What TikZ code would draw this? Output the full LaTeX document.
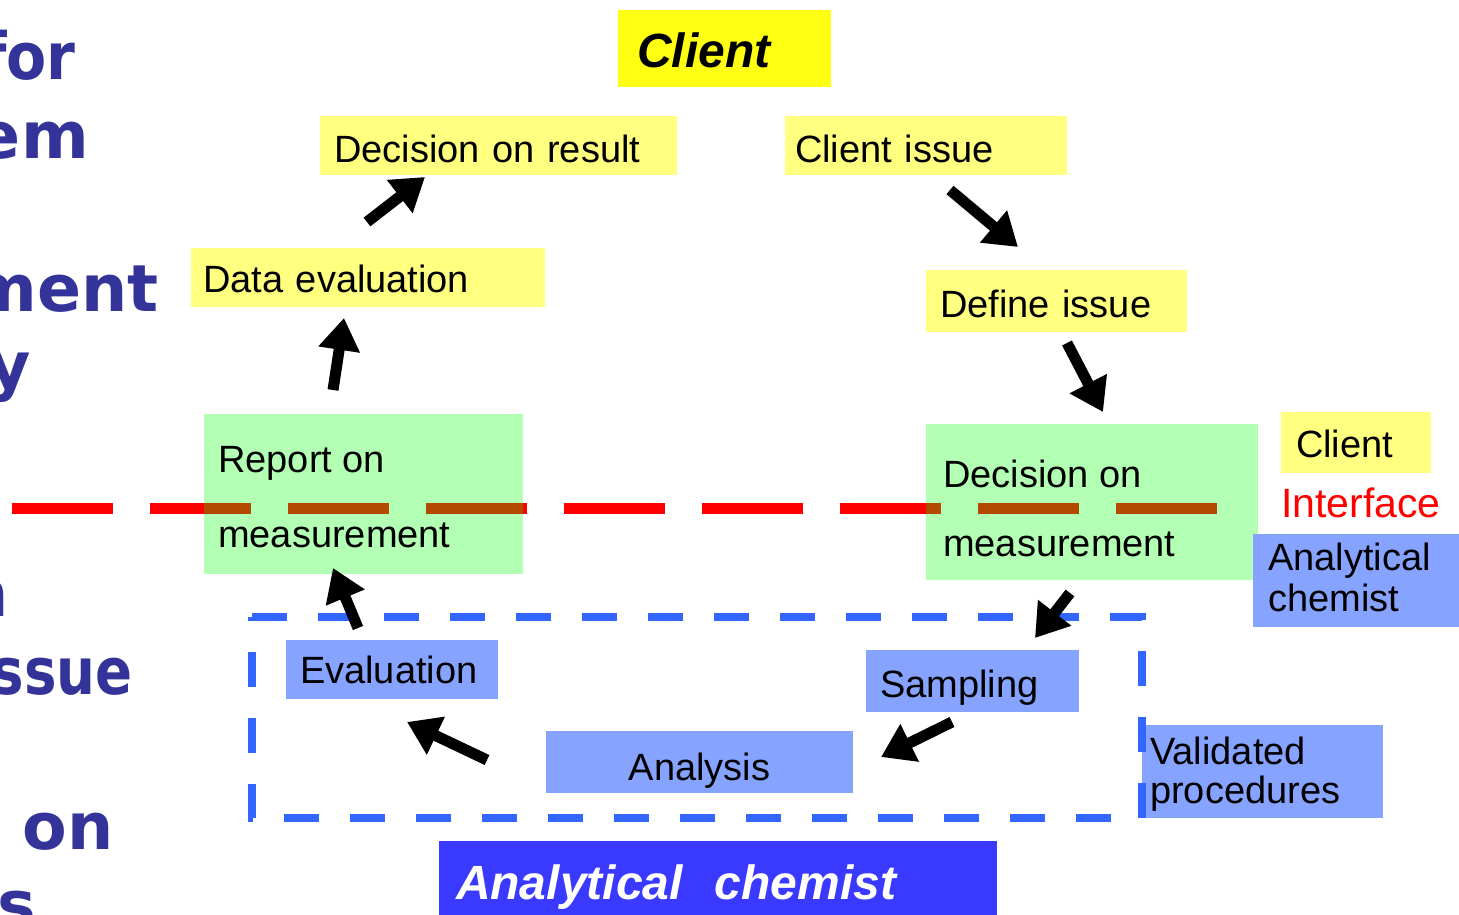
\documentclass[tikz,border=0pt]{standalone}
\usepackage{fontspec}
\setmainfont{Liberation Sans}
\newfontfamily\djv{DejaVu Sans}
\usetikzlibrary{arrows.meta}
\definecolor{ttl}{HTML}{FFFF14}
\definecolor{lyel}{HTML}{FFFF80}
\definecolor{lgrn}{HTML}{B3FFB3}
\definecolor{lblu}{HTML}{85A3FF}
\definecolor{dblu}{HTML}{3366FF}
\definecolor{bblu}{HTML}{3939FF}
\definecolor{navy}{HTML}{333399}
\definecolor{brwn}{HTML}{B44A00}
\begin{document}
\begin{tikzpicture}[x=1pt,y=-1pt,
  bx/.style={anchor=north west, inner ysep=0pt, outer sep=0pt, text depth=0pt,
     align=left, font=\fontsize{38}{44}\selectfont},
  ybox/.style={bx, fill=lyel},
  gbox/.style={bx, fill=lgrn},
  bbox/.style={bx, fill=lblu},
  txt/.style={anchor=base west, inner sep=0pt, font=\fontsize{38}{44}\selectfont},
  frag/.style={anchor=base east, inner sep=0pt, text=navy, font=\djv\bfseries\fontsize{65}{78}\selectfont},
  blk/.style={line width=11pt, -{Triangle[length=32pt,width=40pt]}},
  redline/.style={line width=11pt, dash pattern=on 101pt off 37pt}
]
\useasboundingbox (0,0) rectangle (1459,915);
\clip (0,0) rectangle (1459,915);

% cut-off slide text on the left
\node[frag] (f1) at (76,80) {\scalebox{0.9}[1]{for}};
\node[frag] (f2) at (89,158) {em};
\node[frag] (f3) at (159,311) {ment};
\node[frag] (f4) at (31,388) {y};
\node[frag] (f5) at (9,616) {n};
\node[frag] (f6) at (133,694) {\scalebox{0.84}[1]{ssue}};
\node[frag] (f7) at (114,849) {on};
\node[frag] (f8) at (36,927) {s};

% boxes
\node[bx, fill=ttl, minimum width=213pt, minimum height=77pt, text width=175pt,
      inner xsep=19pt, text height=39pt, font=\bfseries\itshape\fontsize{48}{56}\selectfont]
      (title) at (618,10) {Client};
\node[ybox, minimum width=357pt, minimum height=59pt, inner xsep=14pt, text width=329pt, text height=33pt]
      (decres) at (320,116) {Decision on result};
\node[ybox, minimum width=282pt, minimum height=59pt, inner xsep=10pt, text width=262pt, text height=33pt]
      (cliss) at (785,116) {Client issue};
\node[ybox, minimum width=354pt, minimum height=59pt, inner xsep=12pt, text width=330pt, text height=29pt]
      (dataev) at (191,248) {Data evaluation};
\node[ybox, minimum width=261pt, minimum height=62pt, inner xsep=14pt, text width=233pt, text height=32pt]
      (defiss) at (926,270) {Define issue};
\node[gbox, minimum width=319pt, minimum height=160pt] (report) at (204,414) {};
\node[gbox, minimum width=332pt, minimum height=156pt] (decmeas) at (926,424) {};
\node[ybox, minimum width=150pt, minimum height=61pt, inner xsep=15pt, text width=120pt, text height=29pt]
      (clsm) at (1281,412) {Client};
\node[bbox, minimum width=210pt, minimum height=93pt] (anchem) at (1253,534) {};
\node[bbox, minimum width=212pt, minimum height=59pt, inner xsep=14pt, text width=184pt, text height=27pt]
      (evaluation) at (286,640) {Evaluation};
\node[bbox, minimum width=213pt, minimum height=62pt, inner xsep=14pt, text width=185pt, text height=32pt]
      (sampling) at (866,650) {Sampling};
\node[bbox, minimum width=307pt, minimum height=62pt, align=center, text height=36pt]
      (analysis) at (546,731) {Analysis};
\node[bbox, minimum width=241pt, minimum height=93pt] (valid) at (1142,725) {};
\node[bx, fill=bblu, minimum width=558pt, minimum height=76pt, inner xsep=17pt, text width=524pt,
      text height=40pt, text=white, font=\bfseries\itshape\fontsize{48}{56}\selectfont]
      (anchemB) at (439,841) {Analytical\ \ chemist};

% multi-line texts
\node[txt] (reportA) at (218,472) {Report on};
\node[txt] (reportB) at (218,547) {measurement};
\node[txt] (decmA) at (943,487) {Decision on};
\node[txt] (decmB) at (943,556) {measurement};
\node[txt, text=red, font=\fontsize{41}{46}\selectfont] (interface) at (1281,517) {Interface};
\node[txt] (anchemA1) at (1268,570) {Analytical};
\node[txt] (anchemA2) at (1268,611) {chemist};
\node[txt] (validA) at (1150,764) {Validated};
\node[txt] (validB) at (1150,803) {procedures};

% client / analytical chemist interface line
\coordinate (ifl) at (12,508);
\coordinate (ifr) at (1218,508);
\draw[redline, red] (ifl) -- (ifr);
\begin{scope}
  \clip (report.north west) rectangle (report.south east)
        (decmeas.north west) rectangle (decmeas.south east);
  \draw[redline, brwn] (ifl) -- (ifr);
\end{scope}

% analytical chemist dashed frame
\coordinate (fa) at (252,617);
\coordinate (fb) at (1142,617);
\coordinate (fc) at (1142,818);
\coordinate (fd) at (252,818);
\draw[dblu, line width=8pt, dash pattern=on 35pt off 31pt] (fa) -- (fb) -- (fc) -- (fd) -- cycle;

% arrows
\coordinate (a1t) at (333,390); \coordinate (a1h) at (344,318);
\coordinate (a2t) at (367,222); \coordinate (a2h) at (425,177);
\coordinate (a3t) at (950,190); \coordinate (a3h) at (1018,247);
\coordinate (a4t) at (1067,343); \coordinate (a4h) at (1103,412);
\coordinate (a5t) at (1070,593); \coordinate (a5h) at (1035,638);
\coordinate (a6t) at (952,722); \coordinate (a6h) at (881,757);
\coordinate (a7t) at (487,760); \coordinate (a7h) at (407,722);
\coordinate (a8t) at (358,628); \coordinate (a8h) at (333,568);
\draw[blk] (a1t) -- (a1h);
\draw[blk] (a2t) -- (a2h);
\draw[blk] (a3t) -- (a3h);
\draw[blk] (a4t) -- (a4h);
\draw[blk] (a5t) -- (a5h);
\draw[blk] (a6t) -- (a6h);
\draw[blk] (a7t) -- (a7h);
\draw[blk] (a8t) -- (a8h);
\end{tikzpicture}
\end{document}
